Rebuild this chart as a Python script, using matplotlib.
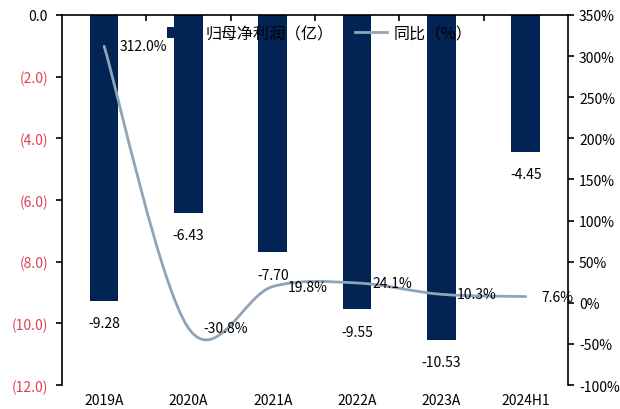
import numpy as np
import matplotlib
matplotlib.use("Agg")
import matplotlib.pyplot as plt
from matplotlib.path import Path
from matplotlib.patches import PathPatch
from matplotlib.lines import Line2D
from matplotlib.patches import Patch

plt.rcParams['font.family'] = ['Noto Sans CJK SC', 'DejaVu Sans']

years = ["2019A", "2020A", "2021A", "2022A", "2023A", "2024H1"]
net_profit = [-9.28, -6.43, -7.70, -9.55, -10.53, -4.45]   # 亿
yoy = [312.0, -30.8, 19.8, 24.1, 10.3, 7.6]                 # %

left_ticks = [0, -2, -4, -6, -8, -10, -12]
right_ticks = [-100, -50, 0, 50, 100, 150, 200, 250, 300, 350]

navy = "#012454"
grey_blue = "#8FA4B8"
red = "#E0404F"


def smooth_path(xs, ys):
    # cubic bezier through every point, tangents from neighbours (catmull-rom style)
    pts = np.column_stack([xs, ys]).astype(float)
    n = len(pts)
    verts = [pts[0]]
    codes = [Path.MOVETO]
    for i in range(n - 1):
        p_prev = pts[i - 1] if i > 0 else pts[i]
        p_next2 = pts[i + 2] if i + 2 < n else pts[i + 1]
        c1 = pts[i] + (pts[i + 1] - p_prev) / 6.0
        c2 = pts[i + 1] - (p_next2 - pts[i]) / 6.0
        verts += [c1, c2, pts[i + 1]]
        codes += [Path.CURVE4] * 3
    return Path(verts, codes)


fig = plt.figure(figsize=(6.2, 4.1), dpi=100)
ax = fig.add_axes([0.1, 0.0585, 0.816, 0.9025])
x = np.arange(len(years))

ax.bar(x, net_profit, width=0.34, color=navy, zorder=2)
ax.set_xlim(-0.5, len(years) - 0.5)
ax.set_ylim(-12, 0)

ax.set_yticks(left_ticks)
ax.set_yticklabels(["0.0" if v == 0 else f"({abs(v):.1f})" for v in left_ticks])
for lbl, v in zip(ax.get_yticklabels(), left_ticks):
    lbl.set_color("black" if v == 0 else red)
ax.tick_params(axis="y", direction="out", length=4, width=1.2, labelsize=10, pad=6)

ax.set_xticks(x)
ax.set_xticklabels(years)
ax.tick_params(axis="x", which="major", length=0, labelsize=10, pad=6)
ax.set_xticks(np.arange(0.5, len(years) - 1, 1), minor=True)
ax.tick_params(axis="x", which="minor", bottom=False, top=True, direction="in",
               length=4, width=1.2)

ax.spines["bottom"].set_visible(False)
ax.spines["right"].set_visible(False)
for s in ["left", "top"]:
    ax.spines[s].set_linewidth(1.2)

for xi, v in zip(x, net_profit):
    ax.annotate(f"{v:.2f}", (xi, v), xytext=(0, -16), textcoords="offset points",
                ha="center", va="center", fontsize=10, zorder=5)

ax2 = ax.twinx()
ax2.set_ylim(-100, 350)
ax2.set_yticks(right_ticks)
ax2.set_yticklabels([f"{v}%" for v in right_ticks])
ax2.tick_params(axis="y", direction="out", length=4, width=1.2, labelsize=10, pad=4)
for s in ["left", "top", "bottom"]:
    ax2.spines[s].set_visible(False)
ax2.spines["right"].set_linewidth(1.2)

curve = PathPatch(smooth_path(x, yoy), facecolor="none", edgecolor=grey_blue,
                  lw=2.0, capstyle="round", zorder=3)
ax2.add_patch(curve)

for xi, v in zip(x, yoy):
    ax2.annotate(f"{v:.1f}%", (xi, v), xytext=(11, 0), textcoords="offset points",
                 ha="left", va="center", fontsize=10, zorder=5)

handles = [Patch(facecolor=navy, edgecolor="none"),
           Line2D([0], [0], color=grey_blue, lw=2.0)]
ax2.legend(handles, ["归母净利润（亿）", "同比（%）"], loc="upper left",
           bbox_to_anchor=(0.195, 0.99), borderaxespad=0, ncol=2, frameon=False,
           fontsize=11.5, handlelength=2.0, columnspacing=1.35, handletextpad=0.4)

fig.savefig("out.png", dpi=100)
